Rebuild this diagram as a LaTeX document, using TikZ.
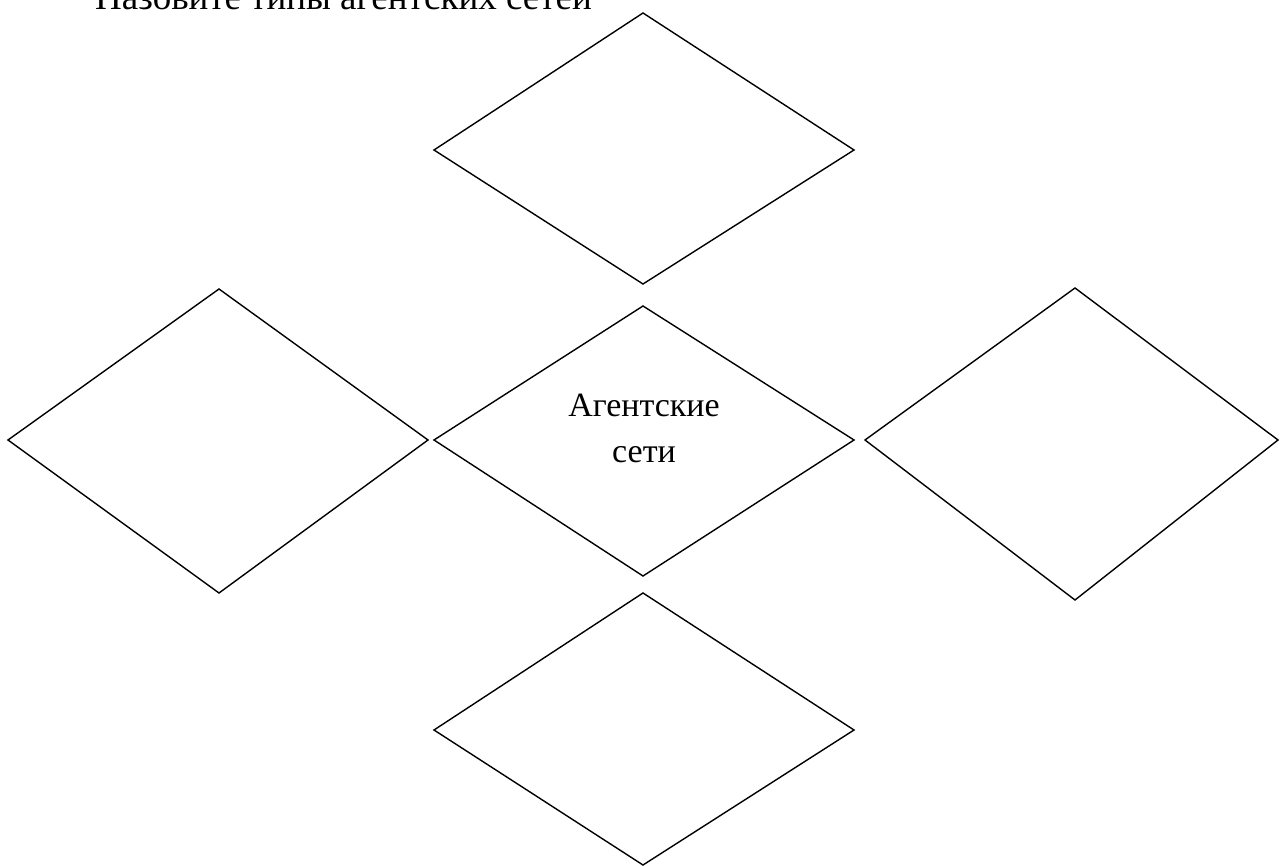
\documentclass[tikz,border=0pt]{standalone}
\usepackage{fontspec}
\setmainfont{Liberation Serif}
\begin{document}
\begin{tikzpicture}[x=1pt,y=-1pt,
  dia/.style={draw=black,line width=1.4pt,line join=miter},
  title/.style={anchor=base west,inner sep=0pt,font=\fontsize{37}{42}\selectfont},
  lbl/.style={inner sep=0pt,font=\fontsize{34}{45}\selectfont}]
\useasboundingbox (0,0) rectangle (1280,866);
\node[title] (t) at (95,10) {Назовите типы агентских сетей};
% top
\draw[dia] (434,150) -- (643,13) -- (854,150) -- (643,284) -- cycle;
% left
\draw[dia] (8,440) -- (219,289) -- (428,440) -- (219,593) -- cycle;
% center
\draw[dia] (434,440) -- (643,306) -- (854,440) -- (643,576) -- cycle;
% right
\draw[dia] (865,440) -- (1075,288) -- (1278,440) -- (1075,600) -- cycle;
% bottom
\draw[dia] (434,730) -- (643,593) -- (854,730) -- (643,865) -- cycle;
\node[lbl,anchor=base] (c1) at (644,417) {Агентские};
\node[lbl,anchor=base] (c2) at (644,462) {сети};
\end{tikzpicture}
\end{document}
